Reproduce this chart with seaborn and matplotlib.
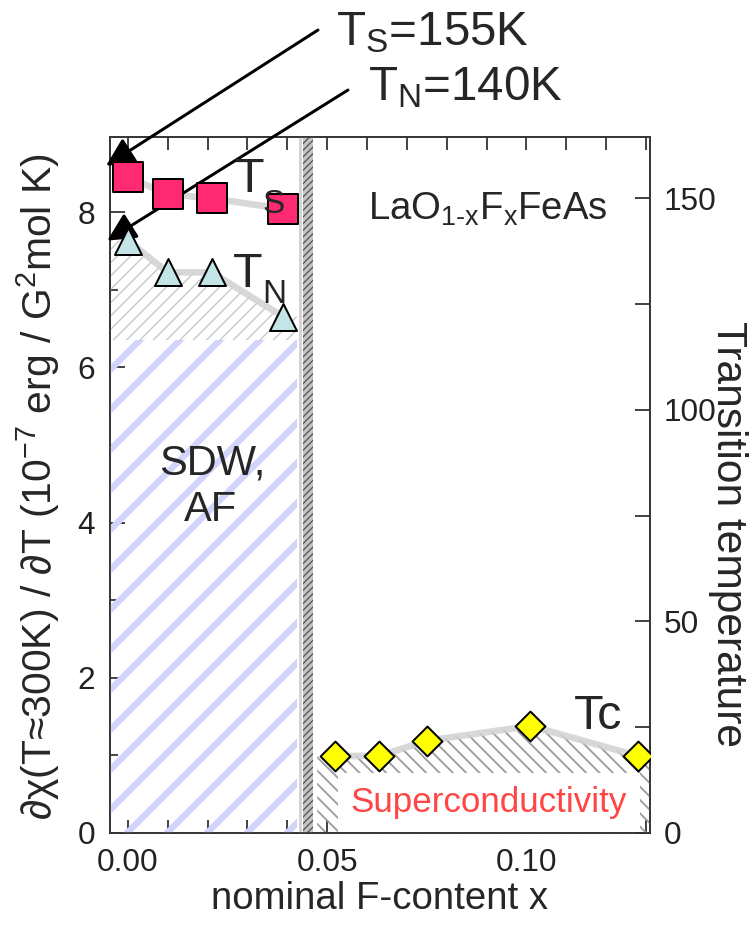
import numpy as np
import matplotlib
matplotlib.use("Agg")
import matplotlib.pyplot as plt
from matplotlib.ticker import MultipleLocator
import seaborn as sns

# Nominal F content and transition temperatures (K)
x_struct = [0.0, 0.01, 0.021, 0.039]
t_struct = [155.0, 151.0, 150.0, 147.5]
x_neel = [0.0, 0.01, 0.021, 0.039]
t_neel = [140.0, 132.5, 132.5, 122.0]
x_sc = [0.052, 0.063, 0.075, 0.101, 0.128]
t_sc = [18.2, 18.2, 21.8, 25.3, 18.2]

# Phase-region limits
sdw_edge = 0.0425
sdw_top = 116.5          # K, top of the SDW/AF block
gap_lo, gap_hi = 0.044, 0.0465
sc_edge = 0.0475

xticks = [0.00, 0.05, 0.10]
xticklabels = ["0.00", "0.05", "0.10"]
left_ticks = [0, 2, 4, 6, 8]
right_ticks = [0, 50, 100, 150]

XMIN, XMAX = -0.0045, 0.131
YL_MAX, YR_MAX = 8.97, 164.5

W, H, DPI = 751, 927, 120
sns.set_style("ticks")
plt.rcParams["font.family"] = ["Liberation Sans", "DejaVu Sans"]
plt.rcParams["mathtext.fontset"] = "custom"
plt.rcParams["mathtext.rm"] = "Liberation Sans"
plt.rcParams["mathtext.it"] = "Liberation Sans:italic"
plt.rcParams["mathtext.default"] = "rm"

fig = plt.figure(figsize=(W / DPI, H / DPI), dpi=DPI)
ax = fig.add_axes([110 / W, 1 - 833 / H, 540 / W, 696 / H])
ax2 = ax.twinx()


def fx(px):
    return px / W


def fy(py):
    return 1 - py / H


def hatch_fill(axis, x, y1, y2, hatch, color, lw, face="none", z=1):
    with plt.rc_context({"hatch.linewidth": lw}):
        coll = axis.fill_between(x, y1, y2, facecolor=face, edgecolor=color,
                                 hatch=hatch, linewidth=0, zorder=z)
    if hasattr(coll, "set_hatch_linewidth"):
        coll.set_hatch_linewidth(lw)
    return coll


# SDW / AF region
hatch_fill(ax2, [XMIN, sdw_edge], 0, sdw_top, "/", "#d2d4fb", 3.8, z=1)
# region between Neel line and SDW block
xn = np.r_[XMIN, x_neel, sdw_edge]
yn = np.r_[t_neel[0], t_neel, t_neel[-1]]
hatch_fill(ax2, xn, sdw_top, yn, "///", "#c6c6c6", 0.8, z=1)
# boundary strip between the phases
ax2.axvline(0.0432, color="#d4d4d4", lw=1.8, zorder=1)
hatch_fill(ax2, [gap_lo, gap_hi], 0, YR_MAX, "//////", "#555555", 0.8,
           face="#c4c4c4", z=1)
# superconducting dome
xs = np.r_[sc_edge, x_sc, XMAX]
ys = np.r_[t_sc[0], t_sc, t_sc[-1]]
hatch_fill(ax2, xs, 0, ys, "\\\\\\", "#9c9c9c", 1.1, z=1)

# soft guide lines through the transition points
for xv, tv in [(x_struct, t_struct), (x_neel, t_neel), (x_sc, t_sc)]:
    sns.lineplot(x=xv, y=tv, ax=ax2, color="#d2d2d2", lw=4, alpha=0.85,
                 zorder=2)

# arrows from the labels at the top
arrow_kw = dict(arrowstyle="-|>", color="black", lw=1.8, mutation_scale=36,
                shrinkA=0, shrinkB=0)
ax2.annotate("", xy=(x_struct[0] - 0.0055, t_struct[0] + 2.7), xycoords="data",
             xytext=(318, H - 30), textcoords="figure pixels",
             arrowprops=arrow_kw, annotation_clip=False, zorder=3)
ax2.annotate("", xy=(x_neel[0] - 0.0052, t_neel[0]), xycoords="data",
             xytext=(348, H - 90), textcoords="figure pixels",
             arrowprops=arrow_kw, annotation_clip=False, zorder=3)

# transition points
sns.scatterplot(x=x_struct, y=t_struct, ax=ax2, marker="s", s=324,
                color="#ff2a72", edgecolor="black", linewidth=1.2, zorder=6)
sns.scatterplot(x=x_neel, y=t_neel, ax=ax2, marker="^", s=262,
                color="#c4e5e7", edgecolor="black", linewidth=1.2, zorder=6)
sns.scatterplot(x=x_sc, y=t_sc, ax=ax2, marker="D", s=160,
                color="#ffff00", edgecolor="black", linewidth=1.2, zorder=6)

# in-plot labels
fig.text(fx(235), fy(192), "T", fontsize=29, va="baseline", ha="left")
fig.text(fx(262), fy(213), "S", fontsize=20, va="baseline", ha="left", zorder=0)
fig.text(fx(233), fy(287), "T", fontsize=29, va="baseline", ha="left")
fig.text(fx(262), fy(303), "N", fontsize=20, va="baseline", ha="left")
fig.text(fx(368), fy(220), r"LaO$_{1\text{-}x}$F$_{x}$FeAs", fontsize=23,
         va="baseline", ha="left")
fig.text(fx(212), fy(474), "SDW,", fontsize=25, va="baseline", ha="center")
fig.text(fx(210), fy(521), "AF", fontsize=25, va="baseline", ha="center")
fig.text(fx(574), fy(729), "Tc", fontsize=29, va="baseline", ha="left")
fig.text(fx(489), fy(812), "Superconductivity", fontsize=21, color="#ff4646",
         va="baseline", ha="center",
         bbox=dict(facecolor="white", edgecolor="none", pad=8))

fig.text(fx(336), fy(45), r"T$_{\mathrm{S}}$=155K", fontsize=28.5,
         va="baseline", ha="left")
fig.text(fx(368), fy(100), r"T$_{\mathrm{N}}$=140K", fontsize=28.5,
         va="baseline", ha="left")

# axes, ticks and labels
ax.set_xlim(XMIN, XMAX)
ax.set_ylim(0, YL_MAX)
ax2.set_ylim(0, YR_MAX)
ax.set_xticks(xticks, xticklabels)
ax.xaxis.set_minor_locator(MultipleLocator(0.01))
ax.set_yticks(left_ticks)
ax.yaxis.set_minor_locator(MultipleLocator(1))
ax2.set_yticks(right_ticks)
ax2.yaxis.set_minor_locator(MultipleLocator(25))

tick_col = "#222222"
ax.tick_params(axis="x", which="both", direction="in", top=True, bottom=True,
               length=8, width=1.0, labelsize=19, pad=9, colors=tick_col)
ax.tick_params(axis="y", which="major", direction="in", length=9, width=1.0,
               labelsize=19, pad=9, colors=tick_col)
ax.tick_params(axis="y", which="minor", direction="in", length=5, width=1.0)
ax2.tick_params(axis="y", which="both", direction="in", length=9, width=1.0,
                labelsize=19, pad=8, colors=tick_col)

for a in (ax, ax2):
    for sp in a.spines.values():
        sp.set_color("#333333")
        sp.set_linewidth(1.0)
        sp.set_visible(True)

ax.set_xlabel("nominal F-content x", fontsize=23, labelpad=2)
ax.set_ylabel(r"∂χ(T≈300K) / ∂T (10$^{-7}$ erg / G$^{2}$mol K)", fontsize=24.5)
ax.yaxis.set_label_coords((62 - 110) / 540, 0.497)
ax2.set_ylabel("Transition temperature", fontsize=25.5, rotation=270,
               va="center")
ax2.yaxis.set_label_coords((728 - 110) / 540, (833 - 534) / 696)

fig.savefig("out.png", dpi=DPI)
